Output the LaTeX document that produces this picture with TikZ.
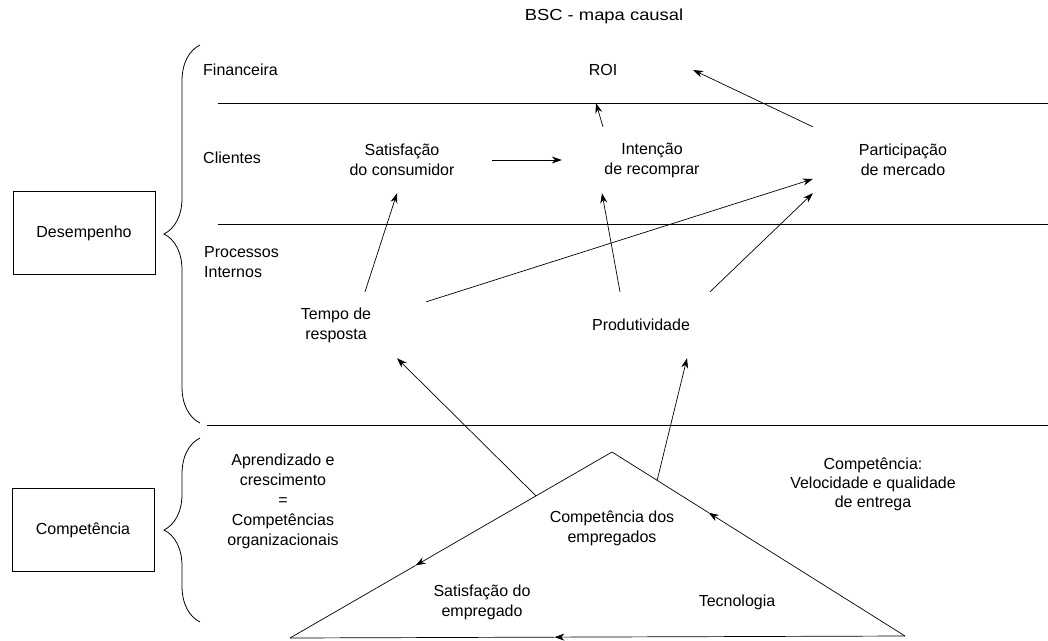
\documentclass[tikz,border=0pt]{standalone}
\usepackage{fontspec}
\setmainfont{Liberation Sans}
\newfontfamily\titlefont[FakeStretch=1.15]{Liberation Sans}
\usetikzlibrary{positioning,arrows.meta,calc,decorations.pathreplacing}

\begin{document}
\begin{tikzpicture}[
    x=1pt, y=-1pt,
    font=\fontsize{16}{20}\selectfont,
    lbl/.style={align=center, inner sep=0pt},
    side/.style={lbl, anchor=west, align=left},
    elem/.style={lbl, minimum width=180pt, minimum height=66pt},
    persp/.style={draw, line width=0.8pt, minimum width=142pt, minimum height=83pt},
    arrow/.style={-{Stealth[length=10pt,width=7pt]}, line width=0.7pt},
    edge/.style={line width=0.7pt},
    rule/.style={line width=0.9pt},
    bracket/.style={decorate, decoration={brace, amplitude=36pt}, line width=0.8pt}
]
\useasboundingbox (0,0) rectangle (1048,640);

% titulo
\node[lbl, font=\titlefont\fontsize{16}{18}\selectfont] (title) at (604,16) {BSC - mapa causal};

% perspectivas
\node[persp] (desemp) at (84,233) {Desempenho};
\node[persp] (compet) at (83,530) {Competência};

\node[side] (financ) at (203,70) {Financeira};
\node[side] (client) at (203,158) {Clientes};
\node[side] (proc) at (204,262) {Processos\\Internos};

\draw[rule] (218,103) -- (1048,103);
\draw[rule] (218,224) -- (1048,224);
\draw[rule] (207,425) -- (1048,425);

\draw[bracket] (200,423) -- (200,45);
\draw[bracket] (200,622) -- (200,438);

% objetivos
\node[elem] (roi) at (603,70) {ROI};
\node[elem] (satcons) at (402,160) {Satisfação\\do consumidor};
\node[elem] (intencao) at (652,160) {Intenção\\de recomprar};
\node[elem] (partic) at (903,160) {Participação\\de mercado};
\node[elem] (tempo) at (336,325) {Tempo de\\resposta};
\node[elem] (produt) at (641,325) {Produtividade};

% aprendizado e crescimento
\node[lbl] (aprend) at (283,501) {Aprendizado e\\crescimento\\=\\Competências\\organizacionais};
\node[lbl] (compemp) at (612,528) {Competência dos\\empregados};
\node[lbl] (satemp) at (482,602) {Satisfação do\\empregado};
\node[lbl] (tecno) at (737,602) {Tecnologia};
\node[lbl, font=\fontsize{16}{19}\selectfont] (compvel) at (873,484) {Competência:\\Velocidade e qualidade\\de entrega};

% triangulo
\coordinate (apex) at (612,452);
\coordinate (bl) at (290,638);
\coordinate (br) at (905,636);
\coordinate (lmid) at ($(apex)!0.61!(bl)$);
\coordinate (rmid) at ($(br)!0.67!(apex)$);
\coordinate (bmid) at ($(br)!0.57!(bl)$);
\coordinate (ltap) at ($(apex)!0.236!(bl)$);
\coordinate (rtap) at ($(apex)!0.154!(br)$);

\draw[arrow] (apex) -- (lmid);
\draw[edge] (lmid) -- (bl);
\draw[arrow] (br) -- (rmid);
\draw[edge] (rmid) -- (apex);
\draw[arrow] (br) -- (bmid);
\draw[edge] (bmid) -- (bl);

% relacoes de causa e efeito
\draw[arrow] (satcons) -- (intencao);
\draw[arrow] ([xshift=-49pt]intencao.north) -- ([xshift=-7pt]roi.south);
\draw[arrow] (partic.north west) -- (roi.east);
\draw[arrow] ([xshift=29pt]tempo.north) -- ([xshift=-5pt]satcons.south);
\draw[arrow] ([yshift=-10pt]tempo.north east) -- ([yshift=-19pt]partic.west);
\draw[arrow] ([xshift=-21pt]produt.north) -- ([xshift=-50pt]intencao.south);
\draw[arrow] ([xshift=69pt]produt.north) -- (partic.south west);
\draw[arrow] (ltap) -- ([xshift=61pt]tempo.south);
\draw[arrow] (rtap) -- ([xshift=46pt]produt.south);

\end{tikzpicture}
\end{document}
